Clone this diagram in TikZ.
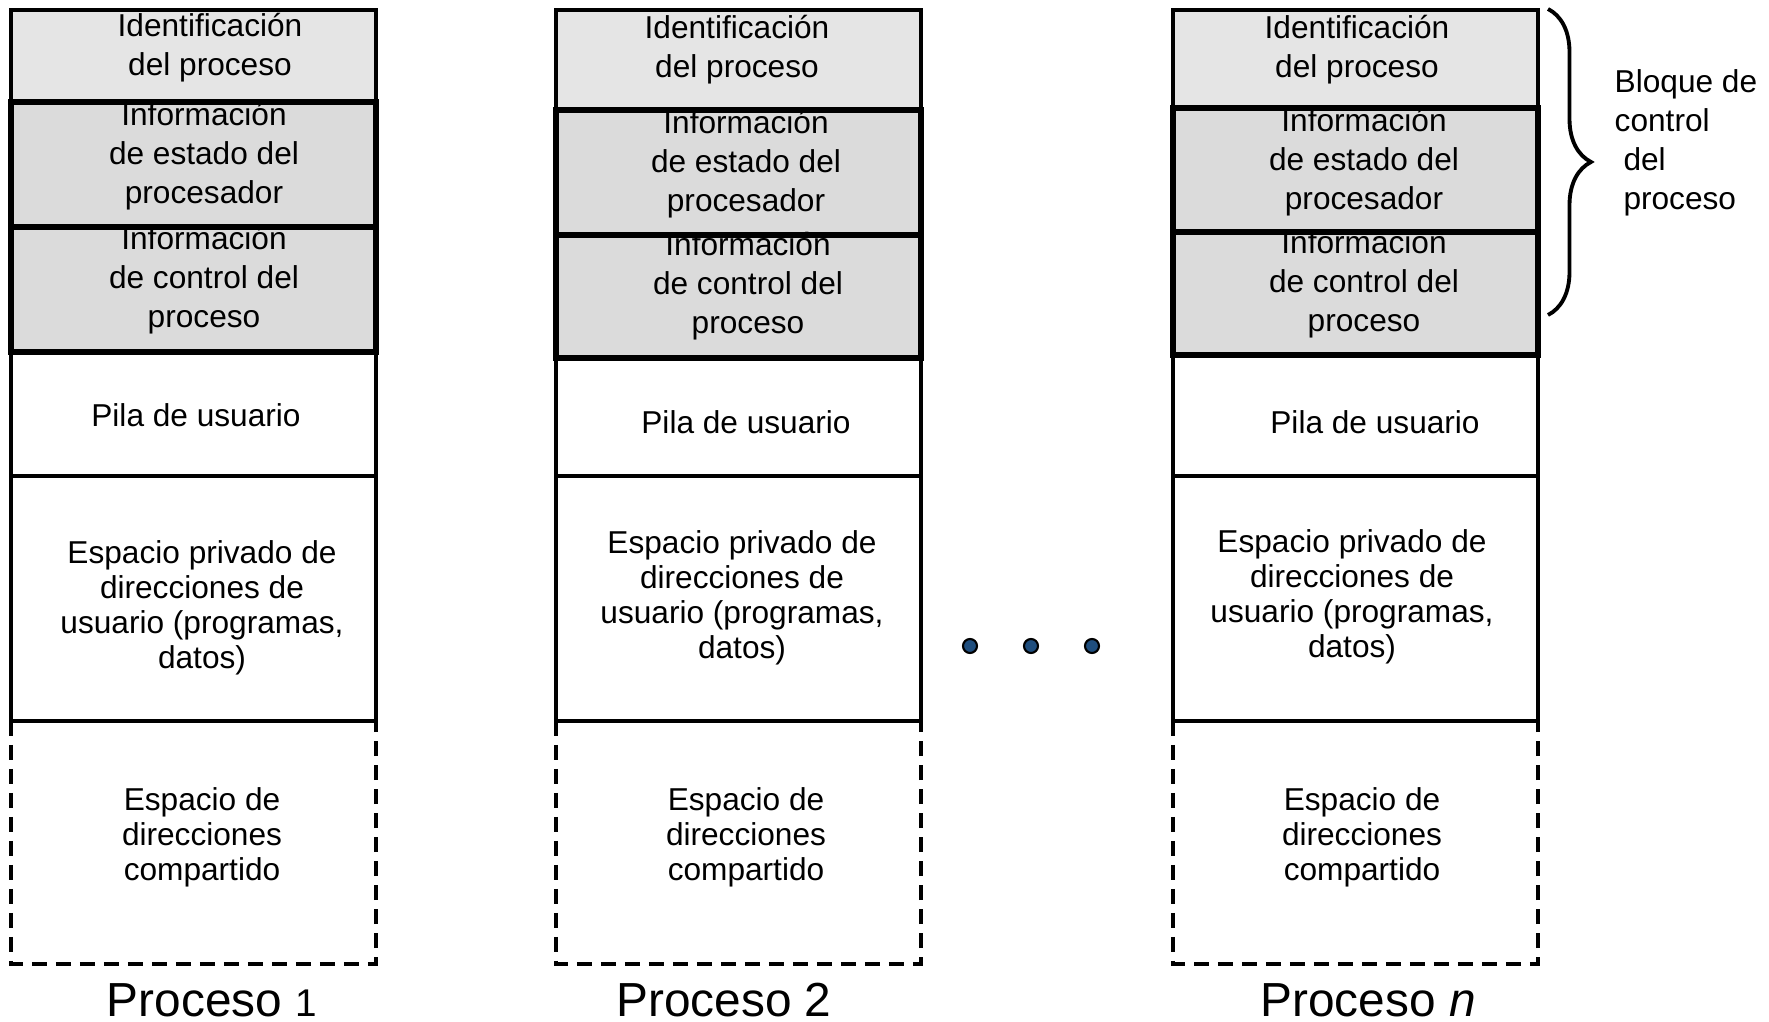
\documentclass[tikz,border=0pt]{standalone}
\usepackage{fontspec}
\setmainfont{Liberation Sans}
\usetikzlibrary{decorations.pathreplacing}
\definecolor{dotblue}{HTML}{1F4E7E}
\tikzset{
    txt/.style={align=center, inner sep=0pt, font=\fontsize{9}{11.1}\selectfont},
    txtlow/.style={align=center, inner sep=0pt, font=\fontsize{9}{10}\selectfont},
    proc/.style={anchor=base, inner sep=0pt, font=\fontsize{13.6}{16}\selectfont},
    idbox/.style={draw, line width=1pt, fill=black!10},
    infobox/.style={draw, line width=1.7pt, fill=black!14},
    plainbox/.style={draw, line width=1pt},
    sharedbox/.style={draw, line width=1.15pt, dash pattern=on 0.15cm off 0.09cm},
}
\begin{document}
\begin{tikzpicture}
    \useasboundingbox (0, 0) rectangle (17.69, 10.22);
    % \draw (0, 0) grid (17, 10);
    \foreach \x/\a/\b/\c in {0.11/9.20/7.95/6.70, 5.56/9.12/7.87/6.64, 11.73/9.14/7.90/6.67} {
        \draw[idbox] (\x, 10.12) rectangle (\x+3.65, \a);
        \draw[plainbox] (\x, \c) rectangle (\x+3.65, 5.46);
        \draw[plainbox] (\x, 5.46) rectangle (\x+3.65, 3.01);
        \draw[infobox] (\x, \a) rectangle (\x+3.65, \b);
        \draw[infobox] (\x, \b) rectangle (\x+3.65, \c);
        \draw[sharedbox] (\x, 3.01) -- (\x, 0.58) -- (\x+3.65, 0.58) -- (\x+3.65, 3.01);
    }
    % proceso 1
    \node[txt, name=id_1] at (2.10, 9.74) {Identificación\\del proceso};
    \node[txt, name=estado_1] at (2.04, 8.66) {Información\\de estado del\\procesador};
    \node[txt, name=control_1] at (2.04, 7.42) {Información\\de control del\\proceso};
    \node[txt, name=pila_1] at (1.96, 6.07) {Pila de usuario};
    \node[txtlow, name=privado_1] at (2.02, 4.14) {Espacio privado de\\direcciones de\\usuario (programas,\\datos)};
    \node[txtlow, name=compartido_1] at (2.02, 1.85) {Espacio de\\direcciones\\compartido};
    \node[proc, name=proc_1] at (2.12, 0.05) {Proceso {\fontsize{11}{13}\selectfont 1}};
    % proceso 2
    \node[txt, name=id_2] at (7.37, 9.72) {Identificación\\del proceso};
    \node[txt, name=estado_2] at (7.46, 8.58) {Información\\de estado del\\procesador};
    \node[txt, name=control_2] at (7.48, 7.36) {Información\\de control del\\proceso};
    \node[txt, name=pila_2] at (7.46, 6.00) {Pila de usuario};
    \node[txtlow, name=privado_2] at (7.42, 4.24) {Espacio privado de\\direcciones de\\usuario (programas,\\datos)};
    \node[txtlow, name=compartido_2] at (7.46, 1.85) {Espacio de\\direcciones\\compartido};
    \node[proc, name=proc_2] at (7.24, 0.05) {Proceso 2};
    % proceso n
    \node[txt, name=id_n] at (13.57, 9.72) {Identificación\\del proceso};
    \node[txt, name=estado_n] at (13.64, 8.60) {Información\\de estado del\\procesador};
    \node[txt, name=control_n] at (13.64, 7.38) {Información\\de control del\\proceso};
    \node[txt, name=pila_n] at (13.75, 6.00) {Pila de usuario};
    \node[txtlow, name=privado_n] at (13.52, 4.25) {Espacio privado de\\direcciones de\\usuario (programas,\\datos)};
    \node[txtlow, name=compartido_n] at (13.62, 1.85) {Espacio de\\direcciones\\compartido};
    \node[proc, name=proc_n] at (13.68, 0.05) {Proceso \textit{n}};
    % puntos
    \foreach \x in {9.70, 10.31, 10.92}
        \draw[fill=dotblue, line width=0.6pt] (\x, 3.76) circle (0.07);
    % bloque de control
    \draw[line width=1.1pt, decorate, decoration={brace, amplitude=0.43cm}] (15.48, 10.13) -- (15.48, 7.07);
    \node[txt, align=left, anchor=west, name=bcp] at (16.14, 8.79) {Bloque de\\control\\\hspace*{2.5pt}del\\\hspace*{2.5pt}proceso};
\end{tikzpicture}
\end{document}
